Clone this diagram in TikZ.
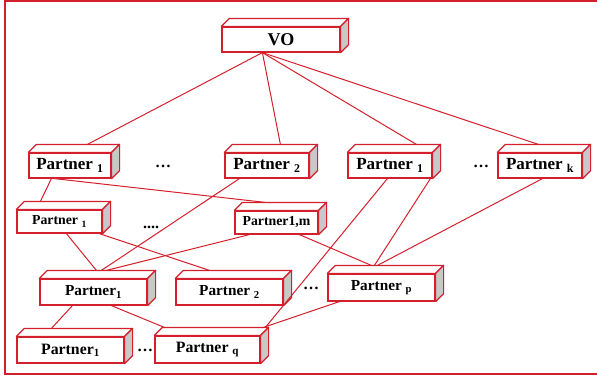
\documentclass[tikz,border=0pt]{standalone}
\usepackage{fontspec}
\setmainfont{Liberation Serif}
\usetikzlibrary{calc}
\definecolor{cred}{RGB}{212,32,44}
\definecolor{cgray}{RGB}{200,200,200}
\tikzset{
  front/.style={draw=cred, fill=white, line width=1.2pt, inner sep=0pt, rectangle},
  face/.style={draw=cred, line width=1.2pt, line join=round},
  link/.style={draw=cred, line width=1pt},
  dotsnode/.style={inner sep=0pt, font=\bfseries\fontsize{16}{16}\selectfont}
}
\newcommand{\cubeat}[7]{%
  \node[front, minimum width=#4pt, minimum height=#5pt,
        font=\bfseries\fontsize{#6}{#6}\selectfont] (#1) at (#2,#3) {#7};
  \draw[face, fill=white] (#1.north west) -- ([shift={(8,-8)}]#1.north west)
     -- ([shift={(8,-8)}]#1.north east) -- (#1.north east) -- cycle;
  \draw[face, fill=cgray] (#1.north east) -- ([shift={(8,-8)}]#1.north east)
     -- ([shift={(8,-8)}]#1.south east) -- (#1.south east) -- cycle;
}
\newcommand{\sub}[1]{\textsubscript{#1}}
\begin{document}
\begin{tikzpicture}[x=1pt,y=-1pt]
\useasboundingbox (0,0) rectangle (597,376);
\draw[cred, line width=1.6pt] (597,1) -- (5,1) -- (5,374) -- (597,374);
% level 0
\cubeat{VO}{281}{39.5}{118}{25}{18}{VO}
% level 1
\cubeat{PAa}{70}{165.5}{82}{25}{17}{Partner \sub{1}}
\cubeat{PAb}{267}{165.5}{84}{25}{17}{Partner \sub{2}}
\cubeat{PAc}{390}{165.5}{84}{25}{17}{Partner \sub{1}}
\cubeat{PAk}{540}{165.5}{84}{25}{17}{Partner \sub{k}}
\node[dotsnode] (D1) at (163,166) {\ldots};
\node[dotsnode] (D2) at (481,166) {\ldots};
% level 2
\cubeat{PBa}{59.5}{221.5}{85}{23}{13.8}{Partner \sub{1}}
\cubeat{PBm}{276.5}{222.5}{83}{23}{13.8}{Partner1,m}
\node[dotsnode] (D3) at (151,227) {....};
% level 3
\cubeat{PCa}{93.5}{292}{107}{26}{15.3}{Partner\sub{1}}
\cubeat{PCb}{229.5}{292}{107}{26}{15.3}{Partner \sub{2}}
\cubeat{PCp}{381.5}{287.5}{107}{27}{15.3}{Partner \sub{p}}
\node[dotsnode] (D4) at (311,288) {\ldots};
% level 4
\cubeat{PDa}{70.5}{350}{107}{26}{15.8}{Partner\sub{1}}
\cubeat{PDq}{207.5}{349.5}{105}{27}{15.8}{Partner \sub{q}}
\node[dotsnode] (D5) at (145,350) {\ldots};
% connectors
\draw[link] ($(VO.south west)+(41,0)$) -- ($(PAa.north west)+(59,-8)$);
\draw[link] ($(VO.south west)+(41,0)$) -- ($(PAb.north west)+(56,-8)$);
\draw[link] ($(VO.south west)+(41,0)$) -- ($(PAc.north west)+(69,-8)$);
\draw[link] ($(VO.south west)+(41,0)$) -- ($(PAk.north west)+(41,-8)$);
\draw[link] ($(PAa.south west)+(23,0)$) -- ($(PBa.north west)+(24,-8)$);
\draw[link] ($(PAa.south west)+(26,0)$) -- ($(PBm.north west)+(31,-8)$);
\draw[link] ($(PAb.south west)+(15,0)$) -- ($(PCa.north west)+(62,-8)$);
\draw[link] ($(PAc.south west)+(40,0)$) -- ($(PDq.north west)+(111,-8)$);
\draw[link] ($(PAc.south west)+(83,0)$) -- ($(PCp.north west)+(47,-8)$);
\draw[link] ($(PAk.south west)+(45,0)$) -- ($(PCp.north west)+(50,-8)$);
\draw[link] ($(PBa.south west)+(50,0)$) -- ($(PCa.north west)+(57,-8)$);
\draw[link] ($(PBa.south west)+(83,0)$) -- ($(PCb.north west)+(34,-8)$);
\draw[link] ($(PBm.south west)+(15,0)$) -- ($(PCa.north west)+(67,-8)$);
\draw[link] ($(PBm.south west)+(65,0)$) -- ($(PCp.north west)+(44,-8)$);
\draw[link] ($(PCa.south west)+(33,0)$) -- ($(PDa.north west)+(35,-8)$);
\draw[link] ($(PCa.south west)+(72,0)$) -- ($(PDq.north west)+(10,-8)$);
\draw[link] ($(PCp.south west)+(12,0)$) -- ($(PDq.north west)+(109,-8)$);
\end{tikzpicture}
\end{document}
